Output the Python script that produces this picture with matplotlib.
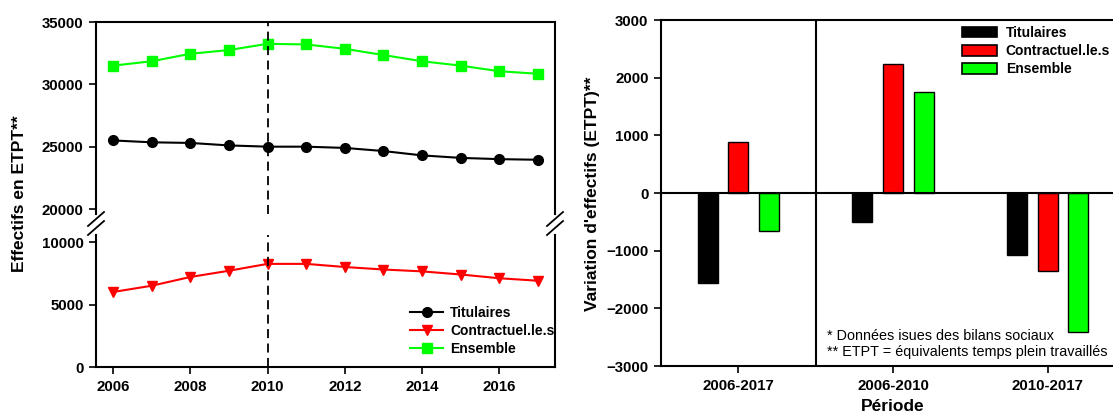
import numpy as np
import matplotlib.pyplot as plt
from matplotlib.lines import Line2D
from matplotlib.patches import Patch

plt.rcParams['font.family'] = ['Liberation Sans', 'DejaVu Sans']
plt.rcParams['font.weight'] = 'bold'
plt.rcParams['axes.linewidth'] = 1.5

# Effectifs par annee (ETPT)
years = [2006, 2007, 2008, 2009, 2010, 2011, 2012, 2013, 2014, 2015, 2016, 2017]
titulaires = [25500, 25350, 25300, 25100, 25000, 25000, 24900, 24650, 24300, 24100, 24000, 23950]
contractuels = [6000, 6500, 7200, 7700, 8250, 8250, 8000, 7800, 7650, 7400, 7100, 6900]
ensemble = [31500, 31850, 32450, 32750, 33250, 33200, 32850, 32350, 31850, 31500, 31050, 30850]

# Variations par periode
periodes = ['2006-2017', '2006-2010', '2010-2017']
var_titulaires = [-1560, -500, -1070]
var_contractuels = [890, 2240, -1350]
var_ensemble = [-660, 1750, -2410]

series = ['Titulaires', 'Contractuel.le.s', 'Ensemble']
colors = ['black', '#ff0000', '#00ff00']

W, H = 1113, 415
fig = plt.figure(figsize=(W / 100, H / 100), dpi=100)

def fx(px):
    return px / W

def fy(py):
    return 1 - py / H

# ---- left chart: broken y axis ----
left, right = 96, 555
ax_top = fig.add_axes([fx(left), fy(214), fx(right - left), fy(22) - fy(214)])
ax_bot = fig.add_axes([fx(left), fy(367), fx(right - left), fy(235) - fy(367)])

for ax in (ax_top, ax_bot):
    ax.plot(years, titulaires, color=colors[0], marker='o', ms=7, lw=1.5, label=series[0])
    ax.plot(years, contractuels, color=colors[1], marker='v', ms=7.5, lw=1.5, label=series[1])
    ax.plot(years, ensemble, color=colors[2], marker='s', ms=6.5, lw=1.5, label=series[2])
    ax.axvline(2010, color='black', ls=(0, (5, 3)), lw=1.3)
    ax.set_xlim(2005.56, 2017.44)
    ax.tick_params(direction='out', length=5, width=1.2, labelsize=10.8, pad=4)

ax_top.set_ylim(19600, 35000)
ax_top.set_yticks([20000, 25000, 30000, 35000])
ax_top.spines['bottom'].set_visible(False)
ax_top.tick_params(axis='x', bottom=False, labelbottom=False)

ax_bot.set_ylim(0, 10560)
ax_bot.set_yticks([0, 5000, 10000])
ax_bot.spines['top'].set_visible(False)
ax_bot.set_xticks(range(2006, 2017, 2))

# break marks
for xc in (left, right):
    for yc in (219, 228):
        fig.add_artist(Line2D([fx(xc - 8), fx(xc + 8)], [fy(yc + 7), fy(yc - 7)],
                              color='black', lw=1.3))

ax_bot.legend(loc='upper left', bbox_to_anchor=(fx(410), fy(306)), bbox_transform=fig.transFigure,
              frameon=False, fontsize=10, handlelength=2.4, handletextpad=0.5,
              labelspacing=0.3, borderpad=0, borderaxespad=0)

fig.text(fx(20), fy(194), 'Effectifs en ETPT**', rotation=90, ha='center', va='center',
         fontsize=12.5, fontweight='bold')

# ---- right chart: bars ----
ax2 = fig.add_axes([fx(661), fy(366), fx(1125 - 661), fy(20) - fy(366)])
x = np.arange(len(periodes))
bw = 0.13
for k, vals in enumerate([var_titulaires, var_contractuels, var_ensemble]):
    ax2.bar(x + (k - 1) * 0.198, vals, width=bw, color=colors[k], edgecolor='black', lw=1)
ax2.axhline(0, color='black', lw=1.5)
ax2.axvline(0.5, color='black', lw=1.5)
ax2.set_xlim(-0.5, 2.5)
ax2.set_ylim(-3000, 3000)
ax2.set_xticks(x)
ax2.set_xticklabels(periodes)
ax2.set_yticks(range(-3000, 3001, 1000))
ax2.tick_params(direction='out', length=5, width=1.2, labelsize=10.8, pad=4)
ax2.set_xlabel('Période', fontsize=12.5, fontweight='bold', labelpad=5)

handles = [Patch(facecolor=c, edgecolor='black', lw=1.2) for c in colors]
ax2.legend(handles, series, loc='upper left', bbox_to_anchor=(fx(962), fy(26)),
           bbox_transform=fig.transFigure, frameon=False, fontsize=10,
           handlelength=2.5, handleheight=0.8, handletextpad=0.65,
           labelspacing=0.3, borderpad=0, borderaxespad=0)

fig.text(fx(593), fy(194), "Variation d'effectifs (ETPT)**", rotation=90, ha='center', va='center',
         fontsize=12.5, fontweight='bold')

fig.text(fx(827), fy(336), '* Données isues des bilans sociaux', fontsize=10.4, fontweight='normal',
         va='center')
fig.text(fx(827), fy(352), '** ETPT = équivalents temps plein travaillés', fontsize=10.4,
         fontweight='normal', va='center')

fig.savefig('out.png', dpi=100)
